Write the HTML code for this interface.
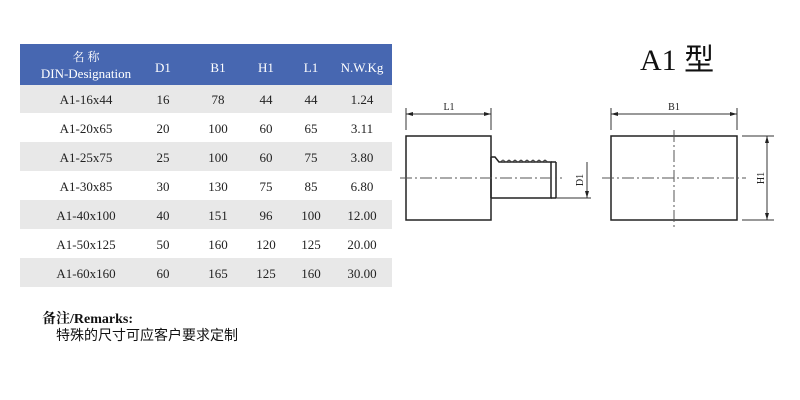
<!DOCTYPE html>
<html><head><meta charset="utf-8"><style>
html,body{margin:0;padding:0;background:#fff;}
svg{display:block;}
</style></head><body>
<svg width="800" height="400" xmlns="http://www.w3.org/2000/svg" font-family="Liberation Serif, Noto Serif CJK SC, serif">
<rect x="0" y="0" width="800" height="400" fill="#fff"/>
<!-- table -->
<rect x="20" y="44" width="372" height="41" fill="#4767b1"/>
<rect x="20" y="85" width="372" height="28" fill="#e8e8e8"/>
<rect x="20" y="142" width="372" height="29" fill="#e8e8e8"/>
<rect x="20" y="200" width="372" height="29" fill="#e8e8e8"/>
<rect x="20" y="258" width="372" height="29" fill="#e8e8e8"/>
<g fill="#fff" font-size="13" text-anchor="middle">
<text x="86" y="61" font-family="Noto Serif CJK SC, serif" font-size="12">名 称</text>
<text x="86" y="78">DIN-Designation</text>
<text x="163" y="72">D1</text>
<text x="218" y="72">B1</text>
<text x="266" y="72">H1</text>
<text x="311" y="72">L1</text>
<text x="362" y="72">N.W.Kg</text>
</g>
<g fill="#222" font-size="13" text-anchor="middle">
<text x="86" y="104">A1-16x44</text><text x="163" y="104">16</text><text x="218" y="104">78</text><text x="266" y="104">44</text><text x="311" y="104">44</text><text x="362" y="104">1.24</text>
<text x="86" y="133">A1-20x65</text><text x="163" y="133">20</text><text x="218" y="133">100</text><text x="266" y="133">60</text><text x="311" y="133">65</text><text x="362" y="133">3.11</text>
<text x="86" y="162">A1-25x75</text><text x="163" y="162">25</text><text x="218" y="162">100</text><text x="266" y="162">60</text><text x="311" y="162">75</text><text x="362" y="162">3.80</text>
<text x="86" y="191">A1-30x85</text><text x="163" y="191">30</text><text x="218" y="191">130</text><text x="266" y="191">75</text><text x="311" y="191">85</text><text x="362" y="191">6.80</text>
<text x="86" y="220">A1-40x100</text><text x="163" y="220">40</text><text x="218" y="220">151</text><text x="266" y="220">96</text><text x="311" y="220">100</text><text x="362" y="220">12.00</text>
<text x="86" y="249">A1-50x125</text><text x="163" y="249">50</text><text x="218" y="249">160</text><text x="266" y="249">120</text><text x="311" y="249">125</text><text x="362" y="249">20.00</text>
<text x="86" y="278">A1-60x160</text><text x="163" y="278">60</text><text x="218" y="278">165</text><text x="266" y="278">125</text><text x="311" y="278">160</text><text x="362" y="278">30.00</text>
</g>
<text x="42" y="323" font-size="14" font-weight="bold" fill="#111">备注/Remarks:</text>
<text x="56" y="340" font-size="14" fill="#111" font-family="Noto Sans CJK SC, sans-serif">特殊的尺寸可应客户要求定制</text>
<!-- title -->
<text x="640" y="70" font-size="30" fill="#111">A1 <tspan font-family="Noto Sans CJK SC, sans-serif">型</tspan></text>
<!-- drawing -->
<g stroke="#222" fill="none" stroke-width="1.5">
<rect x="406" y="136" width="85" height="84"/>
<path d="M491 157 L495 157 L499 162 L551 162 L551 198 L491 198"/>
<path d="M491 157 L491 198" />
<line x1="551" y1="162" x2="556" y2="162"/><line x1="556" y1="162" x2="556" y2="198"/><line x1="551" y1="198" x2="556" y2="198"/>
<rect x="611" y="136" width="126" height="84"/>
</g>
<path d="M500 162 l3 -2 l3 2 l3 -2 l3 2 l3 -2 l3 2 l3 -2 l3 2 l3 -2 l3 2 l3 -2 l3 2 l3 -2 l3 2 l3 -2 l3 2" stroke="#444" fill="none" stroke-width="1"/>
<g stroke="#555" stroke-width="1" stroke-dasharray="12 3 2 3" fill="none">
<line x1="400" y1="178" x2="562" y2="178"/>
<line x1="602" y1="178" x2="746" y2="178"/>
<line x1="674" y1="130" x2="674" y2="228"/>
</g>
<g stroke="#333" stroke-width="1" fill="none">
<line x1="406" y1="108" x2="406" y2="130"/><line x1="491" y1="108" x2="491" y2="130"/>
<line x1="406" y1="114" x2="491" y2="114"/>
<line x1="611" y1="108" x2="611" y2="130"/><line x1="737" y1="108" x2="737" y2="130"/>
<line x1="611" y1="114" x2="737" y2="114"/>
<line x1="556" y1="198" x2="591" y2="198"/>
<line x1="587" y1="162" x2="587" y2="198"/>
<line x1="742" y1="136" x2="774" y2="136"/><line x1="742" y1="220" x2="774" y2="220"/>
<line x1="767" y1="136" x2="767" y2="220"/>
</g>
<g fill="#222">
<path d="M406 114 l7 -2 v4z"/><path d="M491 114 l-7 -2 v4z"/>
<path d="M611 114 l7 -2 v4z"/><path d="M737 114 l-7 -2 v4z"/>
<path d="M587 198 l-2 -7 h4z"/>
<path d="M767 136 l-2 7 h4z"/><path d="M767 220 l-2 -7 h4z"/>
</g>
<g font-size="10" fill="#222" text-anchor="middle">
<text x="449" y="110">L1</text>
<text x="674" y="110">B1</text>
<text transform="translate(583,180) rotate(-90)">D1</text>
<text transform="translate(764,178) rotate(-90)">H1</text>
</g>
</svg>
</body></html>
